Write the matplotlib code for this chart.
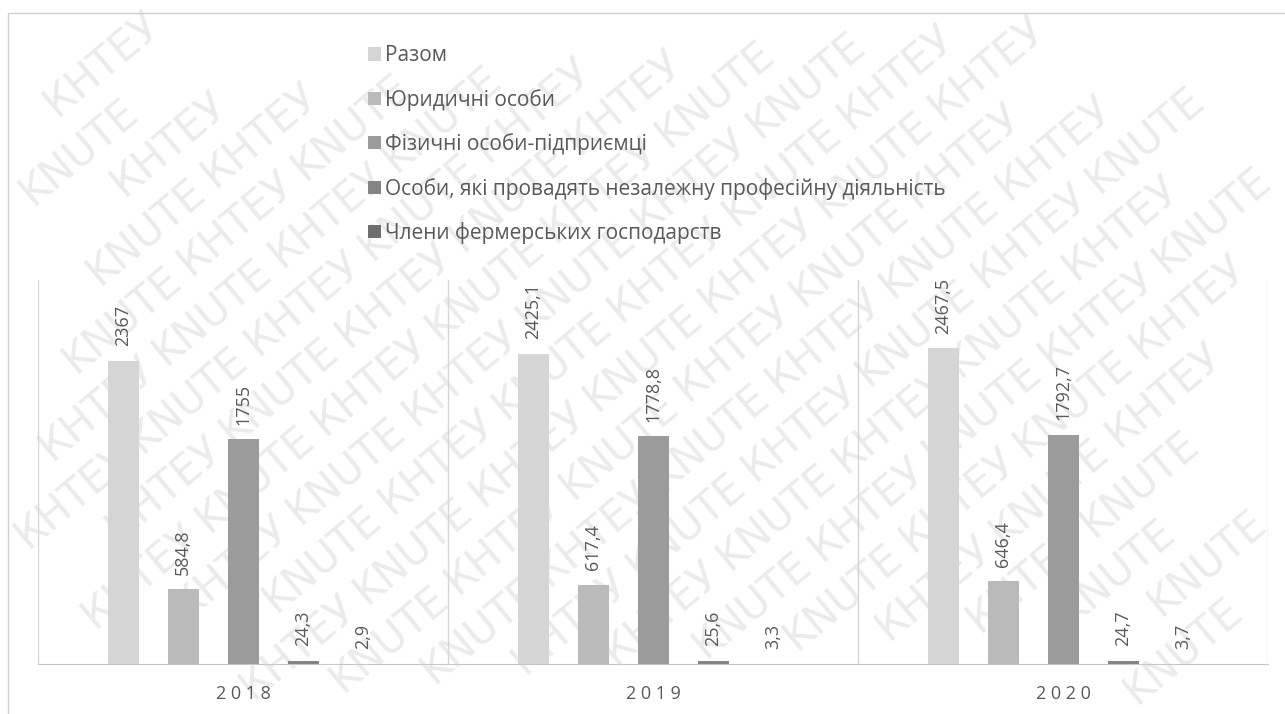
import matplotlib
matplotlib.use("Agg")
import matplotlib.pyplot as plt
import numpy as np
from matplotlib.patches import Rectangle, Patch

plt.rcParams['font.family'] = ['Open Sans', 'DejaVu Sans']

years = ["2018", "2019", "2020"]
series_names = [
    "Разом",
    "Юридичні особи",
    "Фізичні особи-підприємці",
    "Особи, які провадять незалежну професійну діяльність",
    "Члени фермерських господарств",
]
razom = [2367, 2425.1, 2467.5]
yurydychni = [584.8, 617.4, 646.4]
fizychni = [1755, 1778.8, 1792.7]
nezalezhni = [24.3, 25.6, 24.7]
fermery = [2.9, 3.3, 3.7]
series_values = [razom, yurydychni, fizychni, nezalezhni, fermery]
colors = ["#d5d5d5", "#bababa", "#9b9b9b", "#848484", "#6e6e6e"]
watermark_words = ["KNUTE", "КНТЕУ"]

W, H = 1285, 714
fig = plt.figure(figsize=(W / 100, H / 100), dpi=100)
fig.patch.set_facecolor("white")

# watermark: individual words on a rotated grid, kept only if fully inside
wm = fig.add_axes([0, 0, 1, 1], zorder=0)
wm.set_axis_off()
wm.set_xlim(0, W)
wm.set_ylim(0, H)
deg = 40
ang = np.deg2rad(deg)
u = np.array([np.cos(ang), np.sin(ang)])      # along text
v = np.array([-np.sin(ang), np.cos(ang)])     # perpendicular
pitch = 150
line_gap = 52
renderer = fig.canvas.get_renderer()
for k in range(-20, 21):
    for j in range(-12, 13):
        c = np.array([W / 2, H / 2]) + v * (k * line_gap) + u * (j * pitch + (k % 2) * pitch / 2)
        if not (-100 < c[0] < W + 100 and -100 < c[1] < H + 100):
            continue
        word = watermark_words[(j + k) % 2]
        t = wm.text(c[0], c[1], word, rotation=deg, rotation_mode="anchor", ha="center",
                    va="center", fontsize=30, color="#ebebeb", family=["DejaVu Sans"])
        bb = t.get_window_extent(renderer)
        if bb.x0 < 1 or bb.y0 < 1 or bb.x1 > W - 1 or bb.y1 > H - 1:
            t.remove()

# outer border
fig.patches.append(Rectangle((8 / W, -0.05), 1.1, (H - 13) / H + 0.05, transform=fig.transFigure,
                             fill=False, edgecolor="#d0d0d0", linewidth=1.0, zorder=1))

ax = fig.add_axes([38 / W, (H - 664) / H, 1230 / W, 384 / H], zorder=2)
ax.patch.set_alpha(0)
x = np.arange(len(years))
offset = 60 / 410
width = 31 / 410
for i, (vals, col) in enumerate(zip(series_values, colors)):
    pos = x + (i - 2) * offset
    ax.bar(pos, vals, width=width, color=col, zorder=3, label=series_names[i])
    for p, val in zip(pos, vals):
        txt = f"{val:g}".replace(".", ",")
        ax.annotate(txt, (p, val), xytext=(0, 10.5), textcoords="offset points", rotation=90,
                    ha="center", va="bottom", fontsize=13, color="#595959")

ax.set_xlim(-0.5, 2.5)
ax.set_ylim(0, 3000)
for s in ["top", "right", "left"]:
    ax.spines[s].set_visible(False)
ax.spines["bottom"].set_color("#c8c8c8")
for b in [-0.5, 0.5, 1.5, 2.5]:
    ax.axvline(b, color="#d6d6d6", linewidth=1.0, zorder=1)
ax.set_yticks([])
ax.set_xticks(x)
ax.set_xticklabels([" ".join(y) for y in years], fontsize=13, color="#595959")
ax.tick_params(axis="x", length=0, pad=15)

handles = [Patch(facecolor=c, edgecolor="none") for c in colors]
leg = fig.legend(handles, series_names, loc="upper left", bbox_to_anchor=(360 / W, 1 - 37 / H),
                 frameon=False, fontsize=15, labelcolor="#595959", handlelength=0.6,
                 handleheight=0.6, handletextpad=0.2, labelspacing=1.08, borderaxespad=0)

fig.savefig("out.png", dpi=100, facecolor="white")
